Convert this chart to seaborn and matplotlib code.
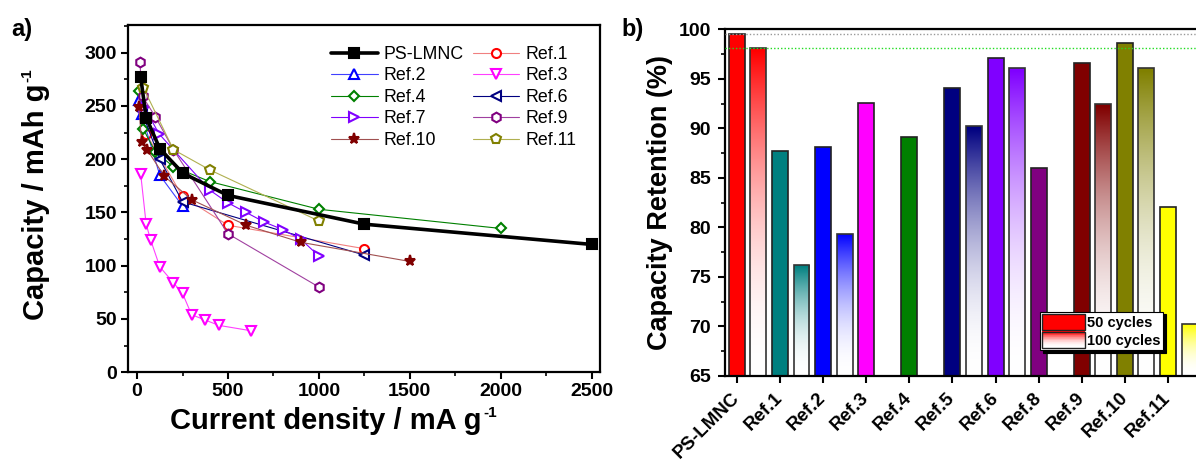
import numpy as np
import pandas as pd
import seaborn as sns
import matplotlib.pyplot as plt
import matplotlib.transforms as mtransforms
from matplotlib.patches import Patch, Rectangle
from matplotlib.legend_handler import HandlerBase
from matplotlib.colors import to_rgb
from matplotlib.ticker import MultipleLocator

# ---- panel a: rate capability (current density in mA/g, capacity in mAh/g) ----
PS_X = [20, 50, 125, 250, 500, 1250, 2500]
PS_Y = [277, 239, 210, 187, 166, 139, 120]
REF1_X = [50, 250, 500, 1250]
REF1_Y = [224, 165, 138, 116]
REF2_X = [10, 25, 125, 250]
REF2_Y = [256, 242, 185, 156]
REF3_X = [20, 50, 75, 125, 200, 250, 300, 375, 450, 625]
REF3_Y = [186, 139, 124, 99, 84, 74, 54, 49, 44, 39]
REF4_X = [10, 35, 100, 200, 400, 1000, 2000]
REF4_Y = [264, 228, 207, 193, 179, 153, 135]
REF6_X = [25, 125, 250, 1250]
REF6_Y = [245, 200, 160, 110]
REF7_X = [40, 120, 400, 500, 600, 700, 800, 900, 1000]
REF7_Y = [249, 224, 171, 159, 150, 141, 134, 125, 109]
REF9_X = [15, 30, 100, 200, 500, 1000]
REF9_Y = [291, 259, 240, 209, 130, 80]
REF10_X = [10, 25, 55, 150, 300, 600, 900, 1500]
REF10_Y = [249, 216, 209, 184, 162, 138, 122, 104]
REF11_X = [35, 200, 400, 1000]
REF11_Y = [267, 209, 190, 142]

RATE_DATA = {
    "PS-LMNC": (PS_X, PS_Y),
    "Ref.1": (REF1_X, REF1_Y),
    "Ref.2": (REF2_X, REF2_Y),
    "Ref.3": (REF3_X, REF3_Y),
    "Ref.4": (REF4_X, REF4_Y),
    "Ref.6": (REF6_X, REF6_Y),
    "Ref.7": (REF7_X, REF7_Y),
    "Ref.9": (REF9_X, REF9_Y),
    "Ref.10": (REF10_X, REF10_Y),
    "Ref.11": (REF11_X, REF11_Y),
}

# ---- panel b: capacity retention (%) ----
CATEGORIES = ["PS-LMNC", "Ref.1", "Ref.2", "Ref.3", "Ref.4", "Ref.5",
              "Ref.6", "Ref.8", "Ref.9", "Ref.10", "Ref.11"]
RET_50 = [99.5, 87.7, 88.1, 92.6, 89.15, 94.1, 97.1, 86.0, 96.6, 98.6, 82.05]
RET_100 = [98.1, 76.2, 79.35, np.nan, np.nan, 90.2, 96.1, np.nan, 92.45, 96.1, 70.2]

# styles
LINE_STYLE = {
    # name: (marker, marker colour, line colour, face, size)
    "PS-LMNC": ("s", "black", "black", "black", 7),
    "Ref.1": ("o", "#ff0000", "#f08080", "white", 6.5),
    "Ref.2": ("^", "#0000ff", "#4040ff", "white", 7),
    "Ref.3": ("v", "#ff00ff", "#ff40ff", "white", 7),
    "Ref.4": ("D", "#008000", "#008000", "white", 5.5),
    "Ref.6": ("<", "#000080", "#000080", "white", 7),
    "Ref.7": (">", "#8000ff", "#8000ff", "white", 7),
    "Ref.9": ("h", "#800080", "#a040a0", "white", 7),
    "Ref.10": ("*", "#800000", "#a05050", "#800000", 8),
    "Ref.11": ("p", "#808000", "#b0b050", "white", 7),
}
BAR_COLORS = ["#ff0000", "#008080", "#0000ff", "#ff00ff", "#008000", "#000080",
              "#8000ff", "#800080", "#800000", "#808000", "#ffff00"]
YMIN, YMAX = 65, 100


def fade(color, n=64, power=2.0):
    # colour at the top fading to white at the bottom
    c = np.array(to_rgb(color))
    f = np.linspace(0, 1, n) ** power
    rgb = (1 - f)[:, None] * 1.0 + f[:, None] * c[None, :]
    return rgb[:, None, :]


class GradientHandler(HandlerBase):
    def create_artists(self, legend, orig_handle, xdescent, ydescent,
                       width, height, fontsize, trans):
        n = 24
        rgb = fade(orig_handle.get_facecolor(), n)[:, 0, :]
        arts = []
        for k in range(n):
            arts.append(Rectangle((-xdescent, -ydescent + height * k / n), width,
                                  height / n + 0.3, facecolor=rgb[k],
                                  edgecolor="none", transform=trans))
        arts.append(Rectangle((-xdescent, -ydescent), width, height, fill=False,
                              edgecolor="#222222", lw=1, transform=trans))
        return arts


sns.set_theme(style="ticks")
plt.rcParams["font.family"] = ["Liberation Sans", "DejaVu Sans"]
plt.rcParams["font.weight"] = "bold"
plt.rcParams["axes.labelweight"] = "bold"
for key in ["text.color", "axes.labelcolor", "xtick.color", "ytick.color",
            "axes.edgecolor"]:
    plt.rcParams[key] = "black"

fig = plt.figure(figsize=(11.96, 4.63), dpi=100)

# ------------------------------------------------------------------ a)
ax1 = fig.add_axes([0.107, 0.196, 0.3946, 0.75])
for name, (xs, ys) in RATE_DATA.items():
    mk, mc, lc, mfc, ms = LINE_STYLE[name]
    main = name == "PS-LMNC"
    sns.lineplot(x=xs, y=ys, ax=ax1, sort=False, color=lc,
                 linewidth=2.6 if main else 0.8, marker=mk, markersize=ms,
                 markeredgecolor=mc, markerfacecolor=mfc, markeredgewidth=1.5,
                 label=name, zorder=4 if main else 3)

ax1.set_xlim(-50, 2545)
ax1.set_ylim(0, 326)
ax1.xaxis.set_major_locator(MultipleLocator(500))
ax1.xaxis.set_minor_locator(MultipleLocator(250))
ax1.yaxis.set_major_locator(MultipleLocator(50))
ax1.yaxis.set_minor_locator(MultipleLocator(25))
ax1.tick_params(which="major", direction="out", length=5, width=1.5,
                labelsize=14, pad=3)
ax1.tick_params(which="minor", direction="out", length=3, width=1.2)
for sp in ax1.spines.values():
    sp.set_visible(True)
    sp.set_linewidth(1.6)
ax1.set_xlabel("Current density / mA g", fontsize=21)
ax1.set_ylabel("Capacity / mAh g", fontsize=21)
ax1.xaxis.set_label_coords(0.42, -0.1)
ax1.yaxis.set_label_coords(-0.165, 0.49)
# small "-1" superscripts hung on the label boxes
ax1.annotate("-1", xy=(1, 1), xycoords=ax1.xaxis.label, xytext=(1, 1),
             textcoords="offset points", ha="left", va="top", fontsize=11)
ax1.annotate("-1", xy=(0, 1), xycoords=ax1.yaxis.label, xytext=(-1, 1),
             textcoords="offset points", ha="left", va="bottom", fontsize=11,
             rotation=90)

handles, labels = ax1.get_legend_handles_labels()
lookup = dict(zip(labels, handles))
order = ["PS-LMNC", "Ref.2", "Ref.4", "Ref.7", "Ref.10",
         "Ref.1", "Ref.3", "Ref.6", "Ref.9", "Ref.11"]
ax1.legend([lookup[k] for k in order], order, ncol=2, loc="upper right",
           bbox_to_anchor=(0.965, 0.96), frameon=False,
           prop={"weight": "normal", "size": 12.8}, handlelength=2.6,
           handletextpad=0.35, columnspacing=0.5, labelspacing=0.25,
           borderaxespad=0)

# ------------------------------------------------------------------ b)
ax2 = fig.add_axes([0.606, 0.188, 0.394, 0.7484])
palette = dict(zip(CATEGORIES, BAR_COLORS))
pos = np.arange(len(CATEGORIES))
df50 = pd.DataFrame({"pos": pos, "ret": RET_50, "cat": CATEGORIES})
df100 = pd.DataFrame({"pos": pos + 0.5, "ret": RET_100, "cat": CATEGORIES}).dropna()

sns.barplot(data=df50, x="pos", y="ret", hue="cat", palette=palette,
            native_scale=True, width=0.37, dodge=False, legend=False,
            edgecolor="#222222", linewidth=1.2, saturation=1, ax=ax2, zorder=2)
n_before = len(ax2.patches)
sns.barplot(data=df100, x="pos", y="ret", hue="cat", palette=palette,
            native_scale=True, width=0.37, dodge=False, legend=False,
            edgecolor="#333333", linewidth=1.2, saturation=1, ax=ax2, zorder=2)

for p in ax2.patches[n_before:]:
    col = p.get_facecolor()
    x0, w, top = p.get_x(), p.get_width(), p.get_y() + p.get_height()
    img = ax2.imshow(fade(col), extent=[x0, x0 + w, YMIN, top], origin="lower",
                     aspect="auto", interpolation="bilinear", zorder=1.9)
    img.set_clip_path(p)
    p.set_facecolor("none")

ax2.axhline(RET_50[0], color="#999999", lw=1, ls=(0, (1, 1.5)), zorder=3)
ax2.axhline(RET_100[0], color="#22dd22", lw=1, ls=(0, (1, 1.5)), zorder=3)

ax2.set_xlim(-0.28, 10.65)
ax2.set_ylim(YMIN, YMAX)
ax2.set_xticks(pos, CATEGORIES, rotation=45, ha="right", va="center",
               rotation_mode="anchor")
shift = mtransforms.ScaledTranslation(5 / 72, 0, fig.dpi_scale_trans)
for lab in ax2.get_xticklabels():
    lab.set_transform(lab.get_transform() + shift)
ax2.yaxis.set_major_locator(MultipleLocator(5))
ax2.yaxis.set_minor_locator(MultipleLocator(2.5))
ax2.tick_params(axis="x", which="major", direction="out", length=5, width=1.5,
                labelsize=13.5, pad=9)
ax2.tick_params(axis="y", which="major", direction="out", length=5, width=1.5,
                labelsize=14, pad=5)
ax2.tick_params(axis="y", which="minor", direction="out", length=3, width=1.2)
ax2.tick_params(axis="x", which="minor", bottom=False)
for k, sp in ax2.spines.items():
    sp.set_linewidth(1.6)
    sp.set_visible(k != "right")
ax2.set_xlabel("")
ax2.set_ylabel("Capacity Retention (%)", fontsize=19.5)
ax2.yaxis.set_label_coords(-0.11, 0.5)

h50 = Patch(facecolor=BAR_COLORS[0], edgecolor="#222222", lw=1)
h100 = Patch(facecolor=BAR_COLORS[0], edgecolor="#222222", lw=1)
leg = ax2.legend([h50, h100], ["50 cycles", "100 cycles"],
                 handler_map={h100: GradientHandler()}, loc="lower left",
                 bbox_to_anchor=(0.669, 0.075), frameon=True, fancybox=False,
                 shadow={"color": "black", "alpha": 1},
                 prop={"weight": "bold", "size": 10.5}, handlelength=2.9,
                 handleheight=1.3, handletextpad=0.2, labelspacing=0.15,
                 borderpad=0.15, borderaxespad=0)
leg.get_frame().set_edgecolor("black")
leg.get_frame().set_linewidth(0.8)

fig.text(0.009, 0.962, "a)", fontsize=17, va="top")
fig.text(0.52, 0.962, "b)", fontsize=17, va="top")

fig.savefig("out.png", dpi=100)
